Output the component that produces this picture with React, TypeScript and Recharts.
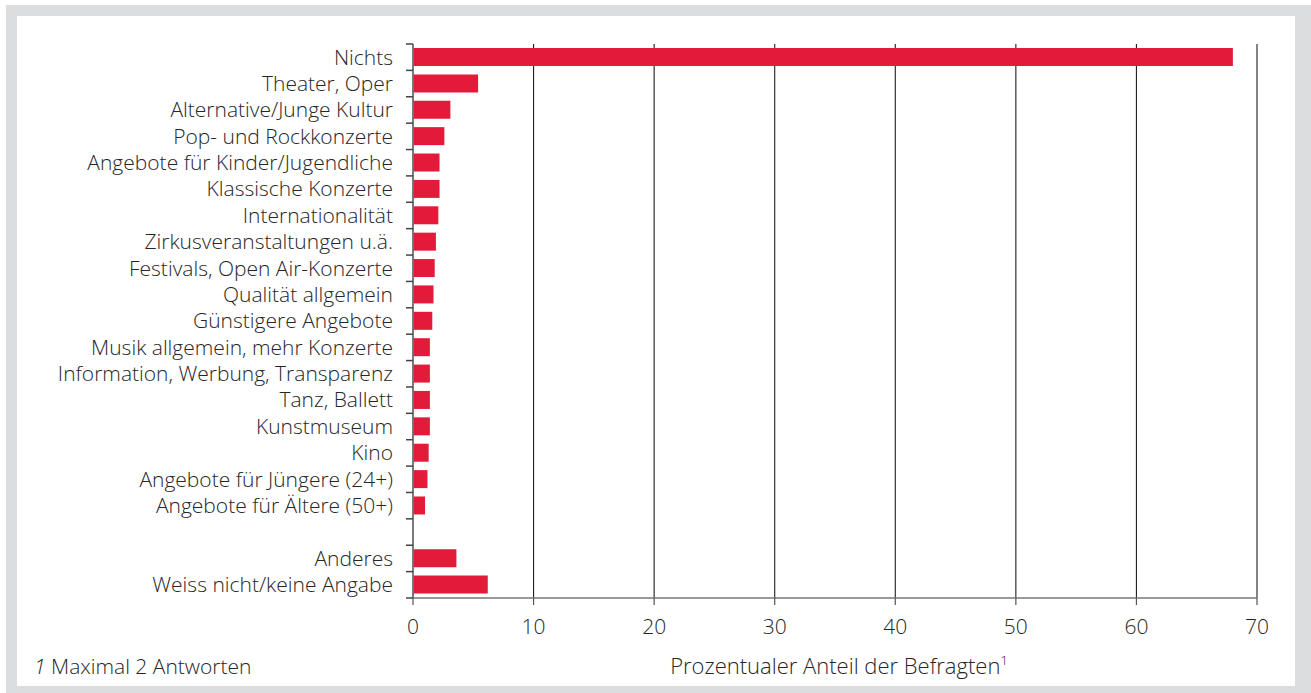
import React from 'react';
import { BarChart, Bar, XAxis, YAxis, CartesianGrid } from 'recharts';

// Antworten (Kategorien), leere Zeile als Abstand vor "Anderes"
const categories = [
  'Nichts',
  'Theater, Oper',
  'Alternative/Junge Kultur',
  'Pop- und Rockkonzerte',
  'Angebote für Kinder/Jugendliche',
  'Klassische Konzerte',
  'Internationalität',
  'Zirkusveranstaltungen u.ä.',
  'Festivals, Open Air-Konzerte',
  'Qualität allgemein',
  'Günstigere Angebote',
  'Musik allgemein, mehr Konzerte',
  'Information, Werbung, Transparenz',
  'Tanz, Ballett',
  'Kunstmuseum',
  'Kino',
  'Angebote für Jüngere (24+)',
  'Angebote für Ältere (50+)',
  ' ',
  'Anderes',
  'Weiss nicht/keine Angabe',
];

const shares: (number | null)[] = [
  68, 5.4, 3.1, 2.6, 2.2, 2.2, 2.1, 1.9, 1.8, 1.7, 1.6, 1.4, 1.4, 1.4, 1.4, 1.3, 1.2, 1.0,
  null, 3.6, 6.2,
];

const xTicks = [0, 10, 20, 30, 40, 50, 60, 70];

const data = categories.map((name, i) => ({ name, value: shares[i] }));

const FONT = '"Open Sans", "Liberation Sans", Arial, sans-serif';
const TEXT = '#262626';

const CHART_W = 1278;
const CHART_H = 670;
const MARGIN = { top: 28, right: 38, left: 0, bottom: 0 };
const Y_WIDTH = 396;
const X_HEIGHT = 88;
const BAND = (CHART_H - MARGIN.top - MARGIN.bottom - X_HEIGHT) / categories.length;

const CategoryTick = (props: any) => {
  const { x, y, payload, index } = props;
  const half = BAND / 2;
  const axisX = x + 20;
  return (
    <g>
      <line x1={axisX - 7} x2={axisX} y1={y - half} y2={y - half} stroke="#444" strokeWidth={1.5} />
      {index === categories.length - 1 && (
        <line x1={axisX - 7} x2={axisX} y1={y + half} y2={y + half} stroke="#444" strokeWidth={1.5} />
      )}
      <text x={x} y={y} dy="0.35em" textAnchor="end" fontSize={21} fontWeight={300} fill={TEXT} fontFamily={FONT}>
        {payload.value}
      </text>
    </g>
  );
};

const AxisTitle = (props: any) => {
  const { viewBox } = props;
  const cx = viewBox.x + viewBox.width / 2 + 4;
  return (
    <text x={cx} y={658} textAnchor="middle" fontSize={22} fontWeight={300} fill={TEXT} fontFamily={FONT}>
      Prozentualer Anteil der Befragten
      <tspan dy={-9} fontSize={13}>1</tspan>
    </text>
  );
};

export default function App() {
  return (
    <div
      style={{
        position: 'absolute',
        left: 6,
        top: 5,
        width: 1305,
        height: 688,
        background: '#dcdddf',
      }}
    >
      <div style={{ position: 'absolute', left: 11, top: 11, width: CHART_W, height: CHART_H, background: '#fff' }}>
        <BarChart width={CHART_W} height={CHART_H} data={data} layout="vertical" margin={MARGIN} barSize={18}>
          <CartesianGrid horizontal={false} stroke="#1e1e1e" strokeWidth={1.1} />
          <XAxis
            type="number"
            domain={[0, 70]}
            ticks={xTicks}
            interval={0}
            height={X_HEIGHT}
            axisLine={{ stroke: '#777', strokeWidth: 1.5 }}
            tickLine={{ stroke: '#555', strokeWidth: 1.2 }}
            tickSize={7}
            tickMargin={14}
            tick={{ fontSize: 21, fontWeight: 300, fill: TEXT, fontFamily: FONT }}
            label={<AxisTitle />}
          />
          <YAxis
            type="category"
            dataKey="name"
            width={Y_WIDTH}
            interval={0}
            axisLine={{ stroke: '#777', strokeWidth: 1.5 }}
            tickLine={false}
            tickSize={7}
            tickMargin={13}
            tick={<CategoryTick />}
          />
          <Bar dataKey="value" fill="#e41a3a" isAnimationActive={false} />
        </BarChart>
        <svg width={320} height={40} style={{ position: 'absolute', left: 0, top: 630 }}>
          <text x={17} y={28} fontSize={21} fontWeight={300} fill={TEXT} fontFamily={FONT}>
            <tspan fontStyle="italic">1</tspan> Maximal 2 Antworten
          </text>
        </svg>
      </div>
    </div>
  );
}
